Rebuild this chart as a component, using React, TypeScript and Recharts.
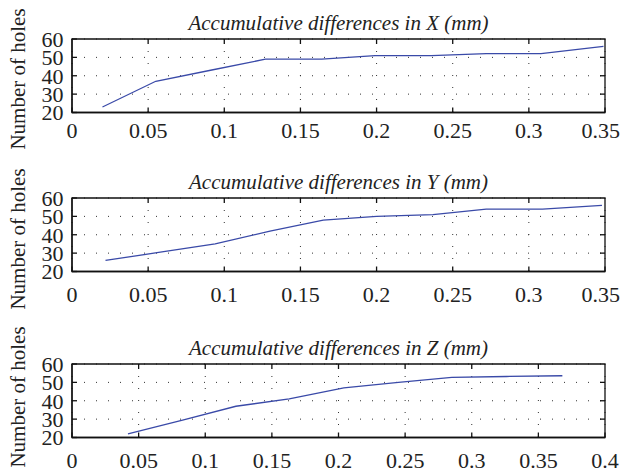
import { CartesianGrid, Line, LineChart, ReferenceArea, ReferenceLine, XAxis, YAxis } from "recharts";

// accumulative differences (mm) vs number of holes
const xDiff = [0.02, 0.055, 0.091, 0.127, 0.164, 0.199, 0.236, 0.272, 0.308, 0.349];
const xHoles = [23, 37, 43, 49, 49, 51, 51, 52, 52, 56];

const yDiff = [0.022, 0.058, 0.094, 0.13, 0.165, 0.2, 0.237, 0.272, 0.309, 0.348];
const yHoles = [26, 30.5, 35, 42, 48, 50, 51, 54, 54, 56];

const zDiff = [0.042, 0.083, 0.123, 0.163, 0.204, 0.245, 0.285, 0.326, 0.368];
const zHoles = [22, 29.5, 37, 41, 47, 50, 52.7, 53.2, 53.6];

const ticks035 = [0, 0.05, 0.1, 0.15, 0.2, 0.25, 0.3, 0.35];
const ticks04 = [0, 0.05, 0.1, 0.15, 0.2, 0.25, 0.3, 0.35, 0.4];
const holeTicks = [20, 30, 40, 50, 60];

const FONT = "'Liberation Serif'";
const LINE = "#3a4aa8";
const FRAME = "#111";
const PLOT_W = 533;
const PLOT_H = 73.5;
const TICK_FS = 22;

type PanelProps = {
  title: string;
  diffs: number[];
  holes: number[];
  xTicks: number[];
  top: number;
  labelY: number;
  labelGap: number;
};

// keeps the last x label inside the picture, like the original figure
function XTick(props: any) {
  const { x, y, payload } = props;
  const label = String(payload.value);
  let w = 0;
  for (const ch of label) w += ch === "." ? 0.25 : 0.5;
  const half = (w * TICK_FS) / 2;
  const cx = Math.min(x, 620 - half);
  return (
    <text x={cx} y={y} dy="0.71em" textAnchor="middle" fontSize={TICK_FS} fill="#222" fontFamily={FONT}>
      {label}
    </text>
  );
}

function Panel({ title, diffs, holes, xTicks, top, labelY, labelGap }: PanelProps) {
  const data = diffs.map((d, i) => ({ d, n: holes[i] }));
  const xMax = xTicks[xTicks.length - 1];
  const yMin = holeTicks[0];
  const yMax = holeTicks[holeTicks.length - 1];
  const axisStyle = { stroke: FRAME, strokeWidth: 1.3 };
  // 5px inward tick length, in data units
  const dy = ((yMax - yMin) * 5) / PLOT_H;
  const dx = (xMax * 5) / PLOT_W;

  return (
    <>
      <div
        style={{
          position: "absolute",
          left: 72,
          width: PLOT_W,
          top: top + 39 - 28,
          height: 24,
          lineHeight: "24px",
          textAlign: "center",
          fontSize: 21,
          fontStyle: "italic",
          color: "#222",
          fontFamily: FONT,
        }}
      >
        {title}
      </div>
      <div
        style={{
          position: "absolute",
          left: 18 - 100,
          top: labelY - 12,
          width: 200,
          height: 24,
          lineHeight: "24px",
          textAlign: "center",
          fontSize: 21,
          color: "#222",
          fontFamily: FONT,
          transform: "rotate(-90deg)",
        }}
      >
        Number of holes
      </div>
      <div style={{ position: "absolute", left: 0, top, fontFamily: FONT }}>
        <LineChart width={622} height={150} data={data} margin={{ top: 39, right: 17, bottom: 0, left: 0 }}>
          <CartesianGrid stroke="#333" strokeDasharray="1 11" />
          <XAxis
            dataKey="d"
            type="number"
            domain={[0, xMax]}
            ticks={xTicks}
            interval={0}
            height={150 - 39 - PLOT_H}
            tickSize={-5}
            tickMargin={labelGap - 3.2}
            tick={<XTick />}
            axisLine={axisStyle}
            tickLine={axisStyle}
          />
          <YAxis
            type="number"
            domain={[yMin, yMax]}
            ticks={holeTicks}
            interval={0}
            width={72}
            tickSize={-5}
            tickMargin={13.5}
            tick={{ fontSize: TICK_FS, fill: "#222", fontFamily: FONT }}
            axisLine={axisStyle}
            tickLine={axisStyle}
          />
          <ReferenceArea x1={0} x2={xMax} y1={yMin} y2={yMax} fill="none" stroke={FRAME} strokeWidth={1.3} />
          {xTicks.slice(1, -1).map((t) => (
            <ReferenceLine
              key={`t${t}`}
              segment={[
                { x: t, y: yMax },
                { x: t, y: yMax - dy },
              ]}
              stroke={FRAME}
              strokeWidth={1.3}
            />
          ))}
          {holeTicks.slice(1, -1).map((v) => (
            <ReferenceLine
              key={`r${v}`}
              segment={[
                { x: xMax, y: v },
                { x: xMax - dx, y: v },
              ]}
              stroke={FRAME}
              strokeWidth={1.3}
            />
          ))}
          <Line type="linear" dataKey="n" stroke={LINE} strokeWidth={1.3} dot={false} isAnimationActive={false} />
        </LineChart>
      </div>
    </>
  );
}

export default function App() {
  return (
    <div style={{ position: "absolute", left: 0, top: 0, width: 622, height: 474, background: "#fff", overflow: "hidden" }}>
      <Panel title="Accumulative differences in X (mm)" diffs={xDiff} holes={xHoles} xTicks={ticks035} top={0} labelY={79} labelGap={18} />
      <Panel title="Accumulative differences in Y (mm)" diffs={yDiff} holes={yHoles} xTicks={ticks035} top={158.7} labelY={239} labelGap={23} />
      <Panel title="Accumulative differences in Z (mm)" diffs={zDiff} holes={zHoles} xTicks={ticks04} top={325} labelY={397} labelGap={23} />
    </div>
  );
}
